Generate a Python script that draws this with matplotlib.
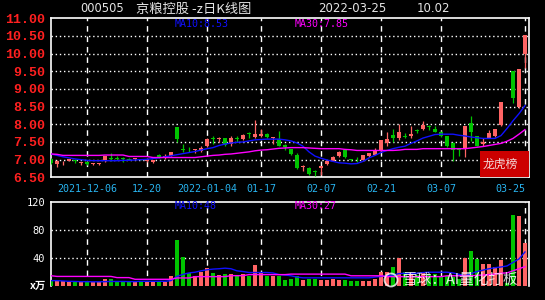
import numpy as np
import pandas as pd
import matplotlib
matplotlib.use('Agg')
import matplotlib.pyplot as plt
from matplotlib.patches import Rectangle, Circle
from matplotlib.transforms import IdentityTransform

W, H = 545, 300

# 000505 daily candles
opens = [7.02, 6.89, 6.92, 6.97, 6.98, 6.90, 6.93, 6.88, 6.88, 6.95,
         7.04, 7.06, 7.04, 7.02, 7.02, 7.01, 6.95, 6.92, 7.14, 7.08,
         7.11, 7.93, 7.30, 7.30, 7.27, 7.24, 7.40, 7.60, 7.58, 7.60,
         7.45, 7.60, 7.58, 7.74, 7.63, 7.66, 7.72, 7.61, 7.57, 7.42,
         7.29, 7.14, 6.80, 6.76, 6.67, 6.76, 6.88, 6.97, 7.10, 7.26,
         7.02, 7.05, 6.99, 7.09, 7.14, 7.24, 7.48, 7.71, 7.62, 7.66,
         7.66, 7.84, 7.88, 7.94, 7.88, 7.79, 7.66, 7.47, 7.31, 7.32,
         8.05, 7.67, 7.45, 7.62, 7.67, 7.98, 9.50, 9.50, 8.49, 9.98]
highs = [7.04, 6.99, 6.95, 7.03, 7.02, 6.94, 6.94, 6.90, 6.90, 7.09,
         7.19, 7.10, 7.07, 7.04, 7.06, 7.03, 7.05, 7.00, 7.16, 7.16,
         7.23, 7.93, 7.45, 7.36, 7.31, 7.40, 7.61, 7.66, 7.64, 7.62,
         7.66, 7.66, 7.73, 7.79, 8.13, 7.88, 7.74, 7.63, 7.82, 7.45,
         7.30, 7.18, 6.86, 6.78, 6.70, 6.83, 6.99, 7.11, 7.25, 7.28,
         7.03, 7.07, 7.14, 7.19, 7.34, 7.55, 7.79, 7.88, 8.01, 7.74,
         7.95, 7.88, 8.10, 7.98, 7.96, 7.80, 7.67, 7.49, 7.33, 7.96,
         8.24, 7.67, 7.62, 7.85, 7.88, 8.64, 9.50, 9.50, 9.56, 10.52]
lows = [6.88, 6.78, 6.85, 6.96, 6.90, 6.86, 6.85, 6.86, 6.85, 6.94,
        6.97, 7.00, 6.92, 6.98, 7.00, 6.98, 6.93, 6.90, 7.04, 7.02,
        7.10, 7.50, 7.21, 7.21, 7.18, 7.22, 7.37, 7.45, 7.50, 7.40,
        7.38, 7.50, 7.56, 7.60, 7.60, 7.64, 7.62, 7.45, 7.40, 7.28,
        7.14, 6.73, 6.68, 6.57, 6.54, 6.57, 6.86, 6.95, 7.08, 7.05,
        6.97, 6.92, 6.97, 7.07, 7.12, 7.23, 7.40, 7.50, 7.55, 7.60,
        7.60, 7.76, 7.84, 7.84, 7.78, 7.64, 7.36, 6.97, 7.10, 7.08,
        7.53, 7.38, 7.38, 7.60, 7.65, 7.95, 9.50, 8.61, 8.45, 9.60]
closes = [6.90, 6.97, 6.93, 7.02, 6.97, 6.93, 6.89, 6.90, 6.89, 7.09,
          7.03, 7.02, 7.02, 7.00, 7.04, 7.00, 7.03, 6.98, 7.07, 7.10,
          7.21, 7.57, 7.28, 7.29, 7.29, 7.33, 7.58, 7.58, 7.60, 7.42,
          7.60, 7.59, 7.71, 7.72, 7.72, 7.72, 7.64, 7.63, 7.40, 7.36,
          7.16, 6.75, 6.81, 6.59, 6.66, 6.83, 6.97, 7.08, 7.23, 7.07,
          6.98, 7.04, 7.12, 7.18, 7.24, 7.55, 7.57, 7.62, 7.79, 7.64,
          7.72, 7.82, 7.98, 7.93, 7.79, 7.66, 7.38, 7.28, 7.26, 7.96,
          7.77, 7.40, 7.50, 7.75, 7.86, 8.64, 9.50, 8.74, 9.56, 10.52]
volumes = [6.7, 7.3, 6.7, 5.0, 5.0, 4.3, 5.5, 4.3, 5.0, 9.8,
           9.8, 5.5, 5.5, 5.5, 5.0, 5.0, 4.3, 5.5, 5.5, 5.5,
           13.9, 65.0, 41.0, 18.6, 13.9, 19.0, 25.7, 18.6, 15.6, 17.0,
           16.7, 13.0, 17.0, 13.0, 30.0, 18.6, 14.0, 13.3, 14.0, 8.0,
           9.8, 14.0, 8.0, 9.0, 9.0, 8.0, 8.0, 9.0, 8.0, 8.0,
           7.0, 7.0, 7.0, 7.0, 9.0, 20.0, 19.0, 26.0, 40.0, 19.0,
           17.5, 15.6, 18.6, 17.0, 16.0, 14.0, 13.3, 12.0, 9.0, 40.0,
           50.0, 38.0, 31.0, 31.0, 27.0, 36.0, 3.0, 101.0, 99.0, 61.0]
ma10 = [7.16, 7.12, 7.08, 7.05, 7.02, 7.00, 6.98, 6.97, 6.97, 6.97,
        6.97, 6.97, 6.98, 6.98, 6.99, 7.00, 7.01, 7.03, 7.05, 7.08,
        7.11, 7.14, 7.17, 7.20, 7.23, 7.27, 7.31, 7.34, 7.40, 7.44,
        7.47, 7.49, 7.50, 7.53, 7.56, 7.57, 7.58, 7.58, 7.58, 7.56,
        7.53, 7.47, 7.38, 7.22, 7.10, 7.04, 6.99, 6.95, 6.91, 6.90,
        6.88, 6.89, 6.95, 7.05, 7.12, 7.20, 7.26, 7.31, 7.35, 7.38,
        7.46, 7.53, 7.61, 7.66, 7.71, 7.72, 7.72, 7.72, 7.69, 7.67,
        7.64, 7.62, 7.60, 7.60, 7.60, 7.68, 7.88, 8.10, 8.30, 8.53]
ma30 = [7.16, 7.15, 7.12, 7.12, 7.12, 7.12, 7.12, 7.12, 7.12, 7.13,
        7.13, 7.13, 7.13, 7.09, 7.09, 7.09, 7.09, 7.06, 7.06, 7.06,
        7.06, 7.06, 7.06, 7.06, 7.06, 7.08, 7.10, 7.12, 7.13, 7.15,
        7.16, 7.18, 7.20, 7.22, 7.25, 7.27, 7.28, 7.30, 7.32, 7.33,
        7.34, 7.34, 7.34, 7.33, 7.32, 7.31, 7.31, 7.31, 7.31, 7.29,
        7.28, 7.26, 7.26, 7.26, 7.26, 7.26, 7.26, 7.26, 7.27, 7.29,
        7.29, 7.29, 7.31, 7.31, 7.31, 7.31, 7.31, 7.31, 7.31, 7.31,
        7.33, 7.35, 7.37, 7.40, 7.43, 7.46, 7.52, 7.60, 7.72, 7.85]
vol_ma10 = [7.0, 7.0, 6.5, 6.0, 5.8, 5.5, 5.5, 5.3, 5.3, 5.5,
            5.8, 5.8, 5.8, 5.6, 5.6, 6.0, 6.0, 6.0, 6.0, 6.0,
            7.0, 13.0, 16.0, 18.0, 19.0, 21.0, 22.5, 23.5, 24.0, 24.8,
            24.0, 21.0, 20.0, 18.6, 18.6, 18.6, 18.6, 18.0, 15.6, 15.0,
            13.9, 12.0, 11.0, 11.0, 11.0, 11.0, 11.0, 11.0, 11.0, 11.0,
            11.0, 11.0, 11.0, 11.0, 12.0, 13.0, 14.0, 15.0, 17.0, 17.6,
            17.6, 17.6, 18.5, 19.0, 19.0, 19.0, 19.0, 18.0, 16.0, 14.0,
            17.0, 20.0, 22.0, 24.0, 25.5, 26.5, 28.0, 33.0, 38.0, 48.0]
vol_ma30 = [14.0, 13.0, 13.0, 13.0, 13.0, 13.0, 13.0, 13.0, 13.0, 13.0,
            13.0, 11.3, 11.3, 11.3, 8.9, 8.9, 8.9, 8.9, 8.9, 8.9,
            8.9, 10.8, 10.8, 10.8, 12.7, 12.7, 12.7, 12.7, 12.7, 12.7,
            14.1, 14.1, 14.1, 15.6, 15.6, 15.6, 15.6, 15.6, 15.6, 15.6,
            16.3, 16.3, 16.3, 16.3, 16.3, 16.3, 16.3, 16.3, 16.3, 16.3,
            13.9, 13.9, 13.9, 13.9, 13.9, 13.9, 12.7, 12.7, 12.7, 12.7,
            12.7, 12.7, 12.7, 12.7, 12.7, 12.7, 13.9, 13.9, 13.9, 13.9,
            13.9, 14.5, 15.0, 15.5, 16.5, 17.6, 18.0, 21.0, 24.0, 27.0]

holidays = ['2022-01-03', '2022-01-31', '2022-02-01', '2022-02-02',
            '2022-02-03', '2022-02-04']
tick_dates = ['2021-12-06', '2021-12-20', '2022-01-04', '2022-01-17',
              '2022-02-07', '2022-02-21', '2022-03-07', '2022-03-25']
tick_labels = ['2021-12-06', '12-20', '2022-01-04', '01-17',
               '02-07', '02-21', '03-07', '03-25']
price_ticks = [6.5, 7.0, 7.5, 8.0, 8.5, 9.0, 9.5, 10.0, 10.5, 11.0]
vol_ticks = [40, 80, 120]

RED = '#ff6464'
GREEN = '#00c400'
BLUE = '#1010ff'
MAG = '#ff00ff'
DATE_C = '#28b4f0'

days = pd.bdate_range('2021-11-26', '2022-03-25')
days = days[~days.isin(pd.to_datetime(holidays))]
x = np.arange(len(days))
tick_pos = [int(np.where(days == pd.Timestamp(d))[0][0]) for d in tick_dates]

o = np.array(opens); h = np.array(highs); l = np.array(lows); c = np.array(closes)
cols = [RED if cc > oo else GREEN for oo, cc in zip(o, c)]

fig = plt.figure(figsize=(W / 100, H / 100), dpi=100, facecolor='black')


def px(xp, yp):
    return xp / W, 1 - yp / H


ax = fig.add_axes([50.7 / W, 1 - 177.3 / H, (529.3 - 50.7) / W, (177.3 - 18.3) / H])
axv = fig.add_axes([50.7 / W, 1 - 285.5 / H, (529.3 - 50.7) / W, (285.5 - 201.7) / H])

for a in (ax, axv):
    a.set_facecolor('black')
    a.set_xlim(-0.05, 79.72)
    for s in a.spines.values():
        s.set_color('white')
        s.set_linewidth(1.2)
    for t in tick_pos:
        a.axvline(t, color='white', lw=1.0, ls=(0, (4, 3.5)), zorder=1)
axv.spines['bottom'].set_visible(False)

# price panel
ax.set_ylim(6.5, 11.0)
for yv in price_ticks[1:-1]:
    ax.axhline(yv, color='white', lw=1.0, ls=(0, (1, 2)), zorder=1)
ax.vlines(x, l, h, colors=cols, lw=0.9, zorder=3)
ax.bar(x, np.maximum(np.abs(c - o), 0.02), bottom=np.minimum(o, c), width=0.8,
       color=cols, zorder=4, linewidth=0)
ax.plot(x, ma10, color=BLUE, lw=1.0, zorder=5)
ax.plot(x, ma30, color=MAG, lw=1.0, zorder=5)
ax.set_yticks(price_ticks)
ax.set_yticklabels(['%.2f' % v for v in price_ticks], color='#ff2020',
                   family='Liberation Mono', fontsize=9.5, fontweight='bold')
ax.set_xticks(tick_pos)
ax.set_xticklabels(tick_labels, color=DATE_C, family='DejaVu Sans Mono', fontsize=7.2)
ax.get_xticklabels()[-1].set_ha('right')
ax.tick_params(length=0, pad=4)
ax.tick_params(axis='x', pad=5)

# 龙虎榜 box
ax.add_patch(Rectangle((0.896, 0.0), 0.104, 0.165, transform=ax.transAxes,
                       facecolor='#cc0000', edgecolor='none', zorder=8, clip_on=False))
ax.text(0.903, 0.082, '龙虎榜', transform=ax.transAxes, color='#f2d8d8',
        family=['Noto Sans CJK SC'], fontsize=8.5, va='center', ha='left', zorder=9)

# volume panel
axv.set_ylim(0, 120)
for yv in vol_ticks[:-1]:
    axv.axhline(yv, color='white', lw=1.0, ls=(0, (1, 2)), zorder=1)
axv.bar(x, volumes, width=0.8, color=cols, linewidth=0, zorder=3)
axv.plot(x, vol_ma10, color=BLUE, lw=1.0, zorder=5)
axv.plot(x, vol_ma30, color=MAG, lw=1.0, zorder=5)
axv.set_yticks(vol_ticks)
axv.set_yticklabels([str(v) for v in vol_ticks], color='white',
                    family='DejaVu Sans Mono', fontsize=7.5)
axv.set_xticks([])
axv.tick_params(length=0, pad=4)

# header texts
hdr = '#e4e4e4'
fig.text(*px(80, 9), '000505', color=hdr, fontsize=8.3, va='center', ha='left')
fig.text(*px(136, 9), '京粮控股 -z日K线图', color=hdr, fontsize=9.5,
         family=['Noto Sans CJK SC', 'DejaVu Sans'], va='center', ha='left')
fig.text(*px(318, 9), '2022-03-25', color=hdr, fontsize=8.5, va='center', ha='left')
fig.text(*px(417, 9), '10.02', color=hdr, fontsize=8.5, va='center', ha='left')

mono = 'DejaVu Sans Mono'
fig.text(*px(175, 24), 'MA10:%.2f' % ma10[-1], color=BLUE, family=mono, fontsize=7.2, va='center')
fig.text(*px(295, 24), 'MA30:%.2f' % ma30[-1], color=MAG, family=mono, fontsize=7.2, va='center')
fig.text(*px(175, 206), 'MA10:%d' % round(vol_ma10[-1]), color=BLUE, family=mono, fontsize=7.2, va='center')
fig.text(*px(295, 206), 'MA30:%d' % round(vol_ma30[-1]), color=MAG, family=mono, fontsize=7.2, va='center')
fig.text(*px(46, 286), 'x万', color='white', family=['Noto Sans CJK SC'],
         fontsize=7.5, fontweight='bold', va='center', ha='right')

# watermark
fig.add_artist(Circle((391, H - 280), 6.5, transform=IdentityTransform(),
                      facecolor='none', edgecolor='white', lw=1.3, alpha=0.8))
fig.text(*px(403, 280), '雪球：AI量化打板', color='white', alpha=0.85, fontsize=10.5,
         family=['Noto Sans CJK SC'], va='center', ha='left')

fig.savefig('out.png', dpi=100, facecolor='black')
